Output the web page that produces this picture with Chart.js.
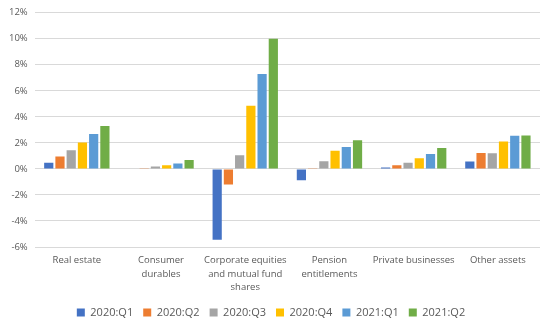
<!DOCTYPE html>
<html>
<head>
<meta charset="utf-8">
<script src="https://cdn.jsdelivr.net/npm/chart.js@4/dist/chart.umd.min.js"></script>
<style>
  html, body { margin: 0; padding: 0; background: #fff; }
  #wrap { width: 554px; height: 333px; }
</style>
</head>
<body>
<div id="wrap"><canvas id="grafico"></canvas></div>
<script>
// categorias e séries
const categorias = [
  ["Real estate"],
  ["Consumer", "durables"],
  ["Corporate equities", "and mutual fund", "shares"],
  ["Pension", "entitlements"],
  ["Private businesses"],
  ["Other assets"]
];
const q1_2020 = [0.48, 0.0, -5.44, -0.87, 0.10, 0.56];
const q2_2020 = [0.95, 0.02, -1.2, 0.05, 0.28, 1.23];
const q3_2020 = [1.43, 0.18, 1.05, 0.58, 0.48, 1.20];
const q4_2020 = [2.02, 0.28, 4.85, 1.40, 0.82, 2.10];
const q1_2021 = [2.69, 0.41, 7.30, 1.69, 1.15, 2.54];
const q2_2021 = [3.30, 0.69, 10.0, 2.20, 1.60, 2.56];
const rotulos = ["2020:Q1", "2020:Q2", "2020:Q3", "2020:Q4", "2021:Q1", "2021:Q2"];
const cores = ["#4472C4", "#ED7D31", "#A5A5A5", "#FFC000", "#5B9BD5", "#70AD47"];

const series = [q1_2020, q2_2020, q3_2020, q4_2020, q1_2021, q2_2021];
const corTexto = "#595959";
const fonte = "'Open Sans', 'Liberation Sans', sans-serif";

// legenda mais baixa que o padrão, para sobrar espaço ao gráfico
const ajusteLegenda = {
  id: "ajusteLegenda",
  beforeInit(chart) {
    const fitOriginal = chart.legend.fit;
    chart.legend.fit = function () {
      fitOriginal.call(this);
      this.height = 36;
    };
  }
};

new Chart(document.getElementById("grafico"), {
  type: "bar",
  data: {
    labels: categorias,
    datasets: series.map((s, i) => ({
      label: rotulos[i],
      data: s,
      backgroundColor: cores[i],
      borderWidth: 0,
      categoryPercentage: 0.8,
      barPercentage: 0.82
    }))
  },
  options: {
    responsive: true,
    maintainAspectRatio: false,
    animation: false,
    layout: { padding: { top: 9, right: 14, left: 2, bottom: 0 } },
    plugins: {
      legend: {
        position: "bottom",
        labels: {
          boxWidth: 8,
          boxHeight: 8,
          padding: 10,
          color: corTexto,
          font: { family: fonte, size: 11 }
        }
      },
      tooltip: { enabled: false }
    },
    scales: {
      y: {
        min: -6,
        max: 12,
        ticks: {
          stepSize: 2,
          padding: 7,
          color: corTexto,
          font: { family: fonte, size: 9.5 },
          callback: v => v + "%"
        },
        grid: { color: "#D9D9D9", drawTicks: false },
        border: { display: false }
      },
      x: {
        afterFit: escala => { escala.height = 50; },
        ticks: {
          color: corTexto,
          font: { family: fonte, size: 9.5, lineHeight: 1.4 },
          maxRotation: 0,
          autoSkip: false,
          padding: 7
        },
        grid: { display: false, drawTicks: false },
        border: { display: false }
      }
    }
  },
  plugins: [ajusteLegenda]
});
</script>
</body>
</html>
